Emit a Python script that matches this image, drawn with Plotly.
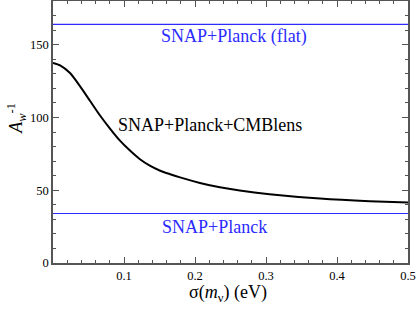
import plotly.graph_objects as go

# Data
sigma_mnu = [0, 0.01, 0.024, 0.038, 0.052, 0.066, 0.08, 0.094, 0.108, 0.122, 0.137,
             0.151, 0.165, 0.179, 0.207, 0.235, 0.263, 0.305, 0.376, 0.446, 0.5]
aw_inv_cmblens = [137.5, 135.8, 130.5, 121.5, 111.5, 101.5, 92.5, 84.2, 77.4, 71.5, 66.7,
                  63.4, 61.0, 58.8, 55.0, 52.0, 49.8, 47.3, 44.3, 42.5, 41.6]
aw_inv_flat = 164
aw_inv_planck = 34
x_range = [0, 0.5]
y_range = [0, 180]
x_ticks = [0.1, 0.2, 0.3, 0.4, 0.5]
y_ticks = [0, 50, 100, 150]

BLUE = "rgb(43,43,255)"
FONT = "Liberation Serif, Times New Roman, serif"

fig = go.Figure()
fig.add_trace(go.Scatter(x=x_range, y=[aw_inv_flat, aw_inv_flat], mode="lines",
                         line=dict(color=BLUE, width=1.2), showlegend=False, hoverinfo="skip"))
fig.add_trace(go.Scatter(x=x_range, y=[aw_inv_planck, aw_inv_planck], mode="lines",
                         line=dict(color=BLUE, width=1.2), showlegend=False, hoverinfo="skip"))
fig.add_trace(go.Scatter(x=sigma_mnu, y=aw_inv_cmblens, mode="lines",
                         line=dict(color="black", width=2, shape="spline", smoothing=0.6),
                         showlegend=False, hoverinfo="skip"))
# redraw the lower reference level above everything, in data coordinates
fig.add_shape(type="line", xref="x", yref="y", x0=x_range[0], x1=x_range[1],
              y0=aw_inv_planck, y1=aw_inv_planck, layer="above",
              line=dict(color=BLUE, width=1.2))

fig.add_annotation(x=0.255, y=155.5, text="SNAP+Planck (flat)", showarrow=False,
                   font=dict(family=FONT, size=18, color=BLUE))
fig.add_annotation(x=0.221, y=94.5, text="SNAP+Planck+CMBlens", showarrow=False,
                   font=dict(family=FONT, size=18, color="black"))
fig.add_annotation(x=0.227, y=25, text="SNAP+Planck", showarrow=False,
                   font=dict(family=FONT, size=18, color=BLUE))

# Axis titles
fig.add_annotation(xref="paper", yref="paper", x=0.493, y=-0.115,
                   xanchor="center", yanchor="middle",
                   text="σ(<i>m</i><sub>ν</sub>) (eV)", showarrow=False,
                   font=dict(family=FONT, size=18, color="black"))
fig.add_annotation(xref="paper", yref="paper", x=-0.105, y=0.553,
                   xanchor="center", yanchor="middle", textangle=-90,
                   text="<i>A</i><sub><i>w</i></sub><sup>-1</sup>", showarrow=False,
                   font=dict(family=FONT, size=18, color="black"))

axis_common = dict(showline=True, linecolor="#555", linewidth=1.5, mirror="ticks",
                   ticks="inside", ticklen=6, tickcolor="#555", tickwidth=1,
                   showgrid=False, zeroline=False, automargin=False,
                   ticklabeloverflow="allow", showspikes=False,
                   tickfont=dict(family=FONT, size=12.5, color="black"))

fig.update_xaxes(range=[x_range[0], x_range[1] + 1e-6], tickvals=x_ticks,
                 ticktext=[str(v) for v in x_ticks],
                 minor=dict(ticks="inside", ticklen=3, dtick=0.02, tick0=0, tickcolor="#555",
                            showgrid=False),
                 **axis_common)
fig.update_yaxes(range=y_range, tickvals=y_ticks, ticktext=[str(v) for v in y_ticks],
                 minor=dict(ticks="inside", ticklen=3, dtick=10, tick0=0, tickcolor="#555",
                            showgrid=False),
                 **axis_common)

fig.update_layout(width=416, height=309, margin=dict(l=53, r=8, t=1, b=46),
                  font=dict(family=FONT),
                  plot_bgcolor="white", paper_bgcolor="white")
fig.write_html("out.html", config={"displayModeBar": False},
               post_script="document.body.style.margin='0';document.body.style.overflow='hidden';")
